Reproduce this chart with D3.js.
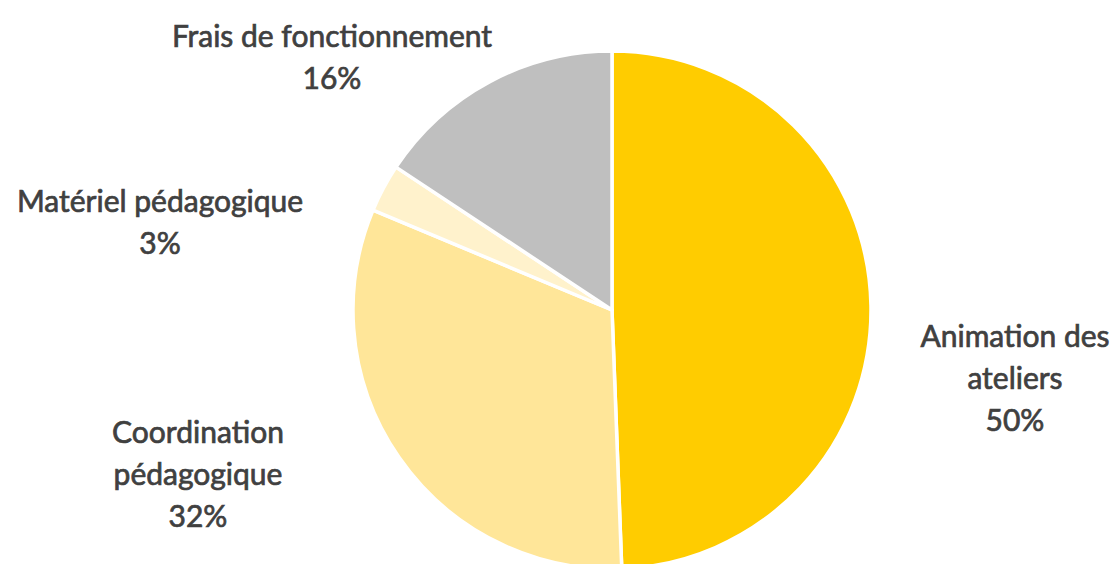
<!DOCTYPE html>
<html lang="fr">
<head>
  <meta charset="UTF-8">
  <title>Répartition du budget</title>
  <script src="https://d3js.org/d3.v7.min.js"></script>
  <style>
    body { margin: 0; background: #fff; }
    .label { font-family: Lato, "Open Sans", sans-serif; font-size: 30px; fill: #404040; stroke: #404040; stroke-width: 0.7px; }
  </style>
</head>
<body>
  <script>
    // data (clockwise from 12 o'clock)
    const categories = ["Animation des ateliers", "Coordination pédagogique", "Matériel pédagogique", "Frais de fonctionnement"];
    const values = [49.4, 31.9, 3.0, 15.7];
    const percentLabels = ["50%", "32%", "3%", "16%"];
    const labelLines = [["Animation des", "ateliers"], ["Coordination", "pédagogique"], ["Matériel pédagogique"], ["Frais de fonctionnement"]];
    const colors = ["#FFCC00", "#FFE699", "#FFF2CC", "#BFBFBF"];

    const width = 1116, height = 564;
    const cx = 612, cy = 310, radius = 259;

    // label anchor (center x, first baseline) for each slice
    const labelPos = [[1015, 347], [198, 443], [160, 212], [332, 47]];
    const lineHeight = 42;

    const svg = d3.select("body")
                  .append("svg")
                  .attr("width", width)
                  .attr("height", height);

    const data = categories.map((c, i) => ({ name: c, value: values[i], i }));

    const pie = d3.pie()
                  .value(d => d.value)
                  .sort(null);

    const arc = d3.arc()
                  .innerRadius(0)
                  .outerRadius(radius);

    const g = svg.append("g")
                 .attr("transform", `translate(${cx},${cy})`);

    g.selectAll("path")
     .data(pie(data))
     .enter()
     .append("path")
     .attr("d", arc)
     .attr("fill", d => colors[d.data.i])
     .attr("stroke", "#fff")
     .attr("stroke-width", 3.5)
     .attr("stroke-linejoin", "round");

    // labels
    data.forEach((d, i) => {
      const lines = labelLines[i].concat([percentLabels[i]]);
      const t = svg.append("text")
                   .attr("class", "label")
                   .attr("text-anchor", "middle");
      lines.forEach((l, k) => {
        t.append("tspan")
         .attr("x", labelPos[i][0])
         .attr("y", labelPos[i][1] + k * lineHeight)
         .text(l);
      });
    });
  </script>
</body>
</html>
